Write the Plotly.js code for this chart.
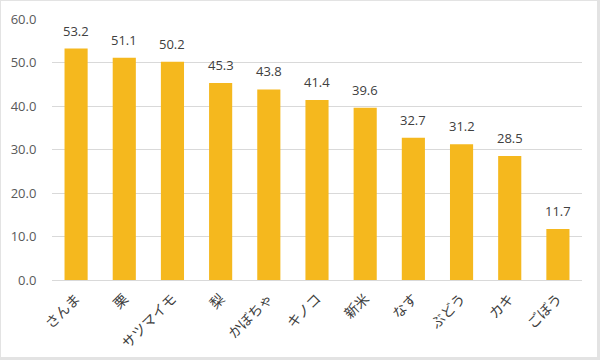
<!DOCTYPE html>
<html><head><meta charset="utf-8">
<script src="https://cdn.plot.ly/plotly-3.0.1.min.js"></script>
<style>html,body{margin:0;padding:0;background:#fff}
#wrap{width:600px;height:360px;box-sizing:border-box;border:1px solid #e3e3e3;border-right-width:3px;border-bottom-width:3px}
#chart{width:100%;height:100%}</style>
</head><body><div id="wrap"><div id="chart"></div></div>
<script>
const categories = ["さんま","栗","サツマイモ","梨","かぼちゃ","キノコ","新米","なす","ぶどう","カキ","ごぼう"];
const values = [53.2,51.1,50.2,45.3,43.8,41.4,39.6,32.7,31.2,28.5,11.7];
const yTicks = [0,10,20,30,40,50,60];
const yTickLabels = ["0.0","10.0","20.0","30.0","40.0","50.0","60.0"];

const jpFont = "'Noto Sans CJK JP', sans-serif";
const numFont = "'Open Sans', 'Noto Sans', sans-serif";
const annotations = categories.map((c, i) => ({
  x: c, y: values[i], xref: "x", yref: "y",
  text: values[i].toFixed(1), showarrow: false,
  yanchor: "bottom", yshift: 7,
  font: {family: numFont, size: 13, color: "#404040"}
}));
Plotly.newPlot("chart", [{
  type: "bar",
  x: categories,
  y: values,
  marker: {color: "#F5B81E"},
  hoverinfo: "none"
}], {
  width: 596, height: 356,
  margin: {l: 51, r: 15, t: 18, b: 77},
  paper_bgcolor: "#fff", plot_bgcolor: "#fff",
  bargap: 0.52,
  showlegend: false,
  annotations: annotations,
  xaxis: {
    tickangle: -45,
    tickfont: {family: jpFont, size: 14, color: "#404040"},
    showline: true, linecolor: "#d9d9d9", linewidth: 1,
    ticks: "outside", ticklen: 4, tickcolor: "rgba(0,0,0,0)",
    fixedrange: true
  },
  yaxis: {
    range: [0, 60],
    tickvals: yTicks, ticktext: yTickLabels,
    tickfont: {family: numFont, size: 13, color: "#595959"},
    showgrid: true, gridcolor: "#d9d9d9", gridwidth: 1,
    zeroline: false, showline: false,
    ticks: "outside", ticklen: 12, tickcolor: "rgba(0,0,0,0)",
    fixedrange: true
  }
}, {displayModeBar: false, staticPlot: true});
</script></body></html>
